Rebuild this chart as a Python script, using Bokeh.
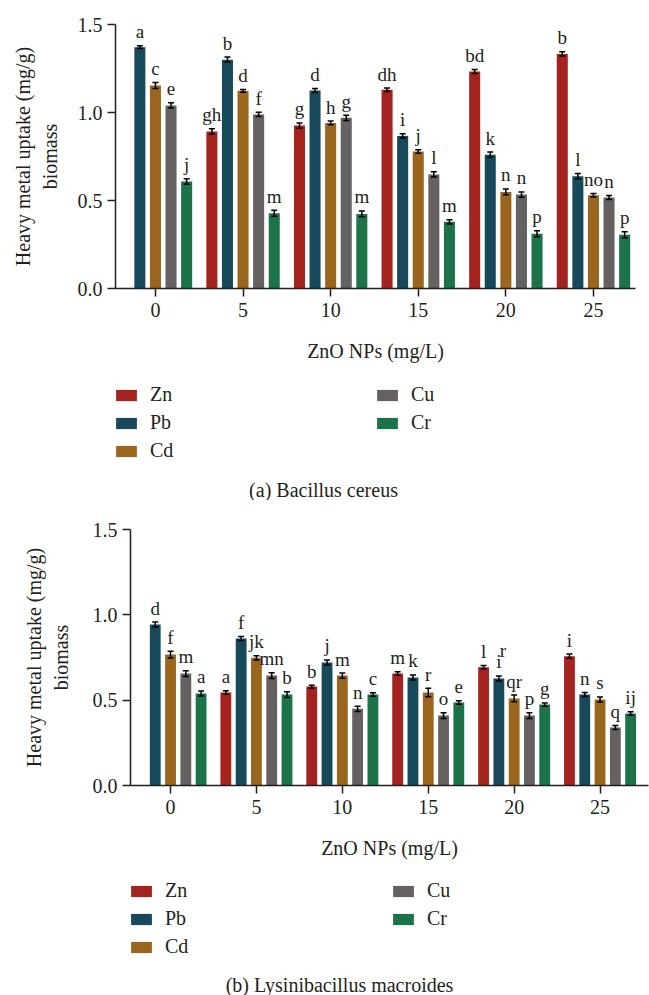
from bokeh.plotting import figure
from bokeh.models import (ColumnDataSource, Whisker, TeeHead, Legend, LegendItem,
                          Label, FixedTicker, Range1d)
from bokeh.layouts import column
from bokeh.embed import file_html
from bokeh.resources import INLINE
from bokeh.core.properties import value

conc = [0, 5, 10, 15, 20, 25]
metals = ["Zn", "Pb", "Cd", "Cu", "Cr"]
colors = ["#A4231F", "#17495B", "#9A661E", "#656161", "#1C7349"]

# (a) Bacillus cereus
zn_a = [0.0, 0.892, 0.926, 1.129, 1.233, 1.333]
pb_a = [1.371, 1.300, 1.125, 0.867, 0.760, 0.638]
cd_a = [1.153, 1.123, 0.941, 0.778, 0.549, 0.530]
cu_a = [1.040, 0.989, 0.970, 0.648, 0.534, 0.517]
cr_a = [0.608, 0.428, 0.424, 0.379, 0.311, 0.305]
zn_a_err = [0.0, 0.015, 0.015, 0.010, 0.012, 0.012]
pb_a_err = [0.008, 0.015, 0.012, 0.012, 0.015, 0.015]
cd_a_err = [0.017, 0.008, 0.010, 0.010, 0.017, 0.010]
cu_a_err = [0.015, 0.012, 0.015, 0.015, 0.015, 0.012]
cr_a_err = [0.015, 0.017, 0.017, 0.012, 0.017, 0.017]
zn_a_lab = ["", "gh", "g", "dh", "bd", "b"]
pb_a_lab = ["a", "b", "d", "i", "k", "l"]
cd_a_lab = ["c", "d", "h", "j", "n", "no"]
cu_a_lab = ["e", "f", "g", "l", "n", "n"]
cr_a_lab = ["j", "m", "m", "m", "p", "p"]

# (b) Lysinibacillus macroides
zn_b = [0.0, 0.545, 0.580, 0.656, 0.693, 0.758]
pb_b = [0.943, 0.861, 0.721, 0.633, 0.627, 0.533]
cd_b = [0.767, 0.748, 0.644, 0.545, 0.510, 0.504]
cu_b = [0.656, 0.644, 0.449, 0.410, 0.410, 0.340]
cr_b = [0.539, 0.533, 0.533, 0.486, 0.474, 0.422]
zn_b_err = [0.0, 0.010, 0.008, 0.010, 0.010, 0.012]
pb_b_err = [0.015, 0.012, 0.015, 0.015, 0.015, 0.012]
cd_b_err = [0.020, 0.012, 0.015, 0.025, 0.020, 0.015]
cu_b_err = [0.017, 0.017, 0.015, 0.017, 0.017, 0.012]
cr_b_err = [0.015, 0.017, 0.010, 0.010, 0.010, 0.010]
zn_b_lab = ["", "a", "b", "m", "l", "i"]
pb_b_lab = ["d", "f", "j", "k", "i", "n"]
cd_b_lab = ["f", "jk", "m", "r", "qr", "s"]
cu_b_lab = ["m", "mn", "n", "o", "p", "q"]
cr_b_lab = ["a", "b", "c", "e", "g", "ij"]
extra_b = [(20, "Pb", "r")]

x_ticks = [0, 5, 10, 15, 20, 25]
y_ticks = [0.0, 0.5, 1.0, 1.5]

FONT = "Liberation Serif"
TXT = "#231F20"
OFFS = [-2, -1, 0, 1, 2]
STEP = 0.89
BW = 0.63
FS = "20px"
LFS = "19px"


def chart(vals, errs, labs, fw, fh, bl, br, bt, bb, xr, ylab_standoff, extras=()):
    p = figure(frame_width=fw, frame_height=fh, output_backend="svg", toolbar_location=None,
               x_range=Range1d(*xr), y_range=Range1d(0, 1.5), frame_align=False,
               min_border_left=bl, min_border_right=br, min_border_top=bt,
               min_border_bottom=bb)
    p.outline_line_color = None
    p.xgrid.visible = False
    p.ygrid.visible = False
    renderers = []
    for i, m in enumerate(metals):
        xs, ys, es, ls = [], [], [], []
        for c, v, e, l in zip(conc, vals[i], errs[i], labs[i]):
            if v > 0:
                xs.append(c + OFFS[i] * STEP)
                ys.append(v)
                es.append(e)
                ls.append(l)
        src = ColumnDataSource(dict(x=xs, top=ys,
                                    upper=[y + e for y, e in zip(ys, es)],
                                    lower=[y - e for y, e in zip(ys, es)],
                                    lab=ls))
        r = p.vbar(x="x", top="top", width=BW, bottom=0, source=src,
                   fill_color=colors[i], line_color=None)
        renderers.append(r)
        w = Whisker(base="x", upper="upper", lower="lower", source=src,
                    line_color="black", line_width=1.5, level="overlay",
                    upper_head=TeeHead(size=6, line_color="black", line_width=1.5),
                    lower_head=TeeHead(size=6, line_color="black", line_width=1.5))
        p.add_layout(w)
        p.text(x="x", y="upper", text="lab", source=src, text_align="center",
               text_baseline="alphabetic", y_offset=-14,
               text_font=value(FONT), text_font_size=LFS, text_color=TXT)
    for (c, m, t) in extras:
        i = metals.index(m)
        k = conc.index(c)
        ex = ColumnDataSource(dict(x=[c + OFFS[i] * STEP], y=[vals[i][k] + errs[i][k]], t=[t]))
        p.text(x="x", y="y", text="t", source=ex, text_align="center",
               text_baseline="alphabetic", x_offset=4, y_offset=-25,
               text_font=value(FONT), text_font_size=LFS, text_color=TXT)

    for ax in (p.xaxis[0], p.yaxis[0]):
        ax.axis_line_color = TXT
        ax.axis_line_width = 1.5
        ax.major_tick_line_color = TXT
        ax.major_tick_line_width = 1.5
        ax.major_tick_out = 8
        ax.major_tick_in = 0
        ax.minor_tick_line_color = None
        ax.major_label_text_font = FONT
        ax.major_label_text_font_size = FS
        ax.major_label_text_color = TXT
        ax.axis_label_text_font = FONT
        ax.axis_label_text_font_size = FS
        ax.axis_label_text_font_style = "normal"
        ax.axis_label_text_color = TXT
    p.xaxis.ticker = FixedTicker(ticks=x_ticks)
    p.yaxis.ticker = FixedTicker(ticks=y_ticks)
    p.yaxis.major_label_overrides = {t: f"{t:.1f}" for t in y_ticks}
    p.xaxis.axis_label = "ZnO NPs (mg/L)"
    p.yaxis.axis_label = "Heavy metal uptake (mg/g)\nbiomass"
    p.xaxis.major_label_standoff = 6
    p.xaxis.axis_label_standoff = 20
    p.yaxis.major_label_standoff = 5
    p.yaxis.axis_label_standoff = ylab_standoff
    return p, renderers


def legend_fig(height, leg_pos, caption, cap_pos):
    f = figure(width=649, height=height, output_backend="svg", toolbar_location=None,
               x_range=Range1d(0, 1), y_range=Range1d(0, 1), frame_align=False,
               x_axis_location=None, y_axis_location=None,
               min_border=0, min_border_left=0, min_border_right=0,
               min_border_top=0, min_border_bottom=0)
    f.grid.visible = False
    f.outline_line_color = None
    rs = []
    for c in colors:
        rs.append(f.vbar(x=[5], top=[5], bottom=[4], width=0.1, fill_color=c, line_color=None))
    l1 = Legend(items=[LegendItem(label=metals[j], renderers=[rs[j]]) for j in range(3)],
                location=leg_pos[0])
    l2 = Legend(items=[LegendItem(label=metals[j], renderers=[rs[j]]) for j in range(3, 5)],
                location=leg_pos[1])
    for lg in (l1, l2):
        lg.orientation = "vertical"
        lg.glyph_width = 26
        lg.glyph_height = 14
        lg.label_height = 14
        lg.spacing = 5
        lg.padding = 0
        lg.margin = 0
        lg.border_line_color = None
        lg.background_fill_alpha = 0
        lg.label_standoff = 11
        lg.label_text_font = FONT
        lg.label_text_font_size = FS
        lg.label_text_color = TXT
        lg.label_text_baseline = "middle"
        f.add_layout(lg)
    cap = Label(x=cap_pos[0], y=cap_pos[1], x_units="screen", y_units="screen",
                text=caption, text_align="center", text_baseline="middle",
                text_font=FONT, text_font_size=FS, text_color=TXT)
    f.add_layout(cap)
    return f


pa, _ = chart([zn_a, pb_a, cd_a, cu_a, cr_a],
              [zn_a_err, pb_a_err, cd_a_err, cu_a_err, cr_a_err],
              [zn_a_lab, pb_a_lab, cd_a_lab, cu_a_lab, cr_a_lab],
              520, 264, 115, 14, 24, 87, (-2.28, 27.4), 14)
la = legend_fig(125, [(113, 38), (374, 66)], "(a) Bacillus cereus", (323, 11))

pb, _ = chart([zn_b, pb_b, cd_b, cu_b, cr_b],
              [zn_b_err, pb_b_err, cd_b_err, cu_b_err, cr_b_err],
              [zn_b_lab, pb_b_lab, cd_b_lab, cu_b_lab, cr_b_lab],
              518, 256, 130, 1, 29, 77, (-2.33, 27.82), 18, extras=extra_b)
lb = legend_fig(133, [(128, 37), (390, 65)], "(b) Lysinibacillus macroides", (339, 11))

layout = column(pa, la, pb, lb, spacing=0)
open("out.html", "w").write(file_html(layout, INLINE))
